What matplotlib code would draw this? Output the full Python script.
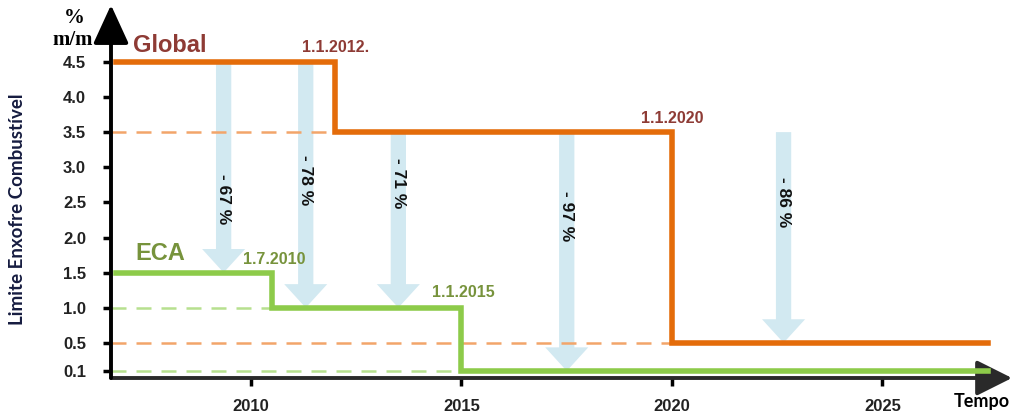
import matplotlib
matplotlib.use("Agg")
import matplotlib.pyplot as plt
from matplotlib.patches import FancyArrowPatch, ArrowStyle

# ---------------- data ----------------
global_years = [2006.8, 2012.0, 2020.0, 2027.5]
global_limits = [4.5, 3.5, 0.5, 0.5]
eca_years = [2006.8, 2010.5, 2015.0, 2027.5]
eca_limits = [1.5, 1.0, 0.1, 0.1]

global_dates = ["1.1.2012.", "1.1.2020"]
eca_dates = ["1.7.2010", "1.1.2015"]

reduction_labels = ["- 67 %", "- 78 %", "- 71 %", "- 97 %", "- 86 %"]
reduction_x = [2009.35, 2011.3, 2013.5, 2017.5, 2022.65]
reduction_from = [4.5, 4.5, 3.5, 3.5, 3.5]
reduction_to = [1.5, 1.0, 1.0, 0.1, 0.5]
reduction_label_y = [2.55, 2.82, 2.78, 2.3, 2.5]

ytick_values = [0.1, 0.5, 1.0, 1.5, 2.0, 2.5, 3.0, 3.5, 4.0, 4.5]
ytick_labels = ["0.1", "0.5", "1.0", "1.5", "2.0", "2.5", "3.0", "3.5", "4.0", "4.5"]
xtick_values = [2010, 2015, 2020, 2025]
xtick_labels = ["2010", "2015", "2020", "2025"]

# ---------------- styles ----------------
ORANGE = "#E46C0A"
ORANGE_DASH = "#F2A56A"
GREEN = "#8DCB4A"
GREEN_DASH = "#B7E08F"
BROWN = "#8E3B35"
OLIVE = "#77933C"
ARROW_BLUE = "#D2E9F1"
AXIS = "#2a2a2a"

W, H = 1014, 417
fig = plt.figure(figsize=(W / 100, H / 100), dpi=100)
ax_left, ax_right, ax_bottom, ax_top = 111, 1012, 378, 5
ax = fig.add_axes([ax_left / W, 1 - ax_bottom / H, (ax_right - ax_left) / W, (ax_bottom - ax_top) / H])
px_per_year = 42.1
x0 = 2010 - (251 - ax_left) / px_per_year
ax.set_xlim(x0, x0 + (ax_right - ax_left) / px_per_year)
px_per_unit = 70.25
ax.set_ylim(0, (ax_bottom - ax_top) / px_per_unit)

for s in ["top", "right", "left", "bottom"]:
    ax.spines[s].set_visible(False)

# axes with arrow heads
ax.annotate("", xy=(1, 0), xytext=(0, 0), xycoords="axes fraction",
            arrowprops=dict(arrowstyle="-|>,head_length=1.1,head_width=0.55", lw=2.8,
                            color=AXIS, mutation_scale=20, shrinkA=0, shrinkB=0))
ax.annotate("", xy=(0, 1), xytext=(0, 0), xycoords="axes fraction",
            arrowprops=dict(arrowstyle="-|>,head_length=1.2,head_width=0.55", lw=2.8,
                            color="black", mutation_scale=20, shrinkA=0, shrinkB=0))

# dashed reference lines
for i in range(1, 3):
    ax.hlines(global_limits[i], x0, global_years[i], colors=ORANGE_DASH, lw=1.8,
              linestyles=(0, (6, 4)), zorder=2)
    ax.hlines(eca_limits[i], x0, eca_years[i], colors=GREEN_DASH, lw=1.8,
              linestyles=(0, (6, 4)), zorder=2)

# reduction arrows
style = ArrowStyle.Simple(head_length=17, head_width=31, tail_width=11)
for xr, yf, yt, lab, ly in zip(reduction_x, reduction_from, reduction_to,
                               reduction_labels, reduction_label_y):
    arr = FancyArrowPatch((xr, yf), (xr, yt), arrowstyle=style, mutation_scale=1,
                          color=ARROW_BLUE, lw=0, shrinkA=0, shrinkB=0, zorder=1)
    ax.add_patch(arr)
    ax.text(xr, ly, lab, rotation=-90, ha="center", va="center", fontsize=12.5,
            fontweight="bold", family="Liberation Sans", color="#111111", zorder=3)

# step lines
ax.step(global_years, global_limits, where="post", color=ORANGE, lw=4, zorder=4,
        solid_joinstyle="miter")
ax.step(eca_years, eca_limits, where="post", color=GREEN, lw=4, zorder=4,
        solid_joinstyle="miter")

# ticks
ax.set_yticks(ytick_values)
ax.set_yticklabels(ytick_labels)
ax.set_xticks(xtick_values)
ax.set_xticklabels(xtick_labels)
ax.tick_params(axis="y", length=6, width=2.5, color="black", pad=12, direction="out")
ax.tick_params(axis="x", length=6, width=2.5, color="black", pad=9, direction="out")
for t in ax.get_yticklabels() + ax.get_xticklabels():
    t.set_fontfamily("Liberation Sans")
    t.set_fontweight("bold")
    t.set_fontsize(12)
    t.set_color("#222222")

# series labels
ax.text(2007.2, 4.74, "Global", fontsize=17, fontweight="bold", family="Liberation Sans",
        color=BROWN, ha="left", va="center")
ax.text(2007.25, 1.77, "ECA", fontsize=17, fontweight="bold", family="Liberation Sans",
        color=OLIVE, ha="left", va="center")

# date labels
date_label_y_global = [4.71, 3.70]
date_label_y_eca = [1.68, 1.22]
for lab, xx, yy in zip(global_dates, global_years[1:3], date_label_y_global):
    ax.text(xx, yy, lab, fontsize=11.5, fontweight="bold", family="Liberation Sans",
            color=BROWN, ha="center", va="center")
for lab, xx, yy in zip(eca_dates, eca_years[1:3], date_label_y_eca):
    ax.text(xx + 0.05, yy, lab, fontsize=11.5, fontweight="bold", family="Liberation Sans",
            color=OLIVE, ha="center", va="center")

# axis titles
fig.text(18 / W, 1 - 209 / H, "Limite Enxofre Combustível", rotation=90, fontsize=13.5,
         fontweight="bold", family="Lato", color="#161C40", ha="center", va="center")
fig.text(74 / W, 1 - 18 / H, "%", fontsize=15, fontweight="bold", family="Liberation Serif",
         color="black", ha="center", va="center")
fig.text(73 / W, 1 - 40 / H, "m/m", fontsize=15, fontweight="bold", family="Liberation Serif",
         color="black", ha="center", va="center")
fig.text(982 / W, 1 - 401 / H, "Tempo", fontsize=13, fontweight="bold", family="Lato",
         color="black", ha="center", va="center")

fig.savefig("out.png", dpi=100)
